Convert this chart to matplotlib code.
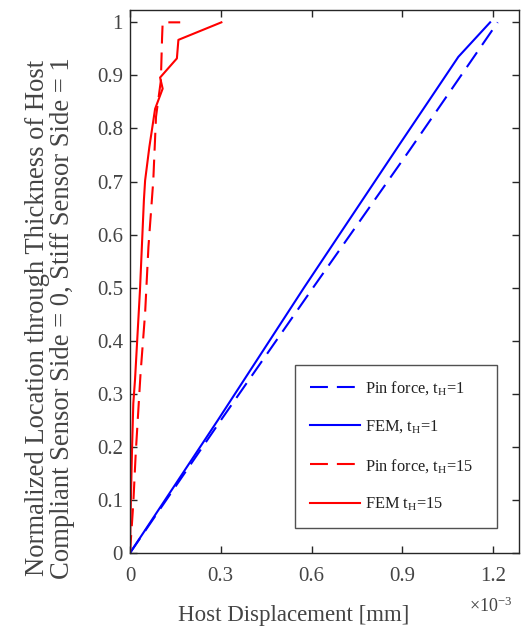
import matplotlib
matplotlib.use("Agg")
import matplotlib.pyplot as plt

plt.rcParams['font.family'] = ['Liberation Serif', 'DejaVu Serif']
plt.rcParams['mathtext.fontset'] = 'custom'
plt.rcParams['mathtext.rm'] = 'Liberation Serif'
plt.rcParams['mathtext.it'] = 'Liberation Serif:italic'

# Displacement values in units of 1e-3 mm
pin_t1_y = [0.0, 0.25, 0.5, 0.76, 1.0]
pin_t1_x = [0.0, 0.30, 0.605, 0.925, 1.215]

fem_t1_y = [0.0, 0.25, 0.5, 0.772, 0.85, 0.935, 1.0]
fem_t1_x = [0.0, 0.29, 0.575, 0.893, 0.985, 1.085, 1.19]

pin_t15_y = [0.0, 0.094, 0.188, 0.339, 0.452, 0.577, 0.702, 0.822, 0.89, 0.97, 1.0, 1.0]
pin_t15_x = [0.0, 0.011, 0.019, 0.035, 0.050, 0.061, 0.077, 0.086, 0.102, 0.106, 0.108, 0.166]

fem_t15_y = [0.0, 0.1, 0.2, 0.282, 0.326, 0.495, 0.665, 0.702, 0.765, 0.837, 0.875, 0.896, 0.932, 0.967, 1.0]
fem_t15_x = [0.0, 0.003, 0.007, 0.011, 0.0166, 0.033, 0.046, 0.050, 0.064, 0.083, 0.108, 0.0995, 0.155, 0.160, 0.302]

labels = ['Pin force, t$_\\mathrm{H}$=1', 'FEM, t$_\\mathrm{H}$=1',
          'Pin force, t$_\\mathrm{H}$=15', 'FEM t$_\\mathrm{H}$=15']

xticks = [0, 0.3, 0.6, 0.9, 1.2]
xticklabels = ['0', '0.3', '0.6', '0.9', '1.2']
yticks = [0, 0.1, 0.2, 0.3, 0.4, 0.5, 0.6, 0.7, 0.8, 0.9, 1.0]
yticklabels = ['0', '0.1', '0.2', '0.3', '0.4', '0.5', '0.6', '0.7', '0.8', '0.9', '1']

fig = plt.figure(figsize=(5.22, 6.31), dpi=100)
ax = fig.add_axes([0.249, 0.1236, 0.745, 0.860])

lw = 1.5
dash = (8.6, 4.3)
ax.plot(pin_t1_x, pin_t1_y, color='#0000ff', lw=lw, dashes=dash, label=labels[0])
ax.plot(fem_t1_x, fem_t1_y, color='#0000ff', lw=lw, label=labels[1])
ax.plot(pin_t15_x, pin_t15_y, color='#ff0000', lw=lw, dashes=dash, label=labels[2])
ax.plot(fem_t15_x, fem_t15_y, color='#ff0000', lw=lw, label=labels[3])

ax.set_xlim(0, 1.285)
ax.set_ylim(0, 1.0226)
ax.set_xticks(xticks)
ax.set_xticklabels(xticklabels)
ax.set_yticks(yticks)
ax.set_yticklabels(yticklabels)
ax.tick_params(direction='in', top=True, right=True, length=5, width=1,
               labelsize=15, colors='#262626', labelcolor='#444444', pad=5)
ax.tick_params(axis='x', pad=10)
for s in ax.spines.values():
    s.set_color('#262626')
    s.set_linewidth(1)

ax.text(0.982, -0.099, r'$\times$10$^{-3}$', transform=ax.transAxes,
        ha='right', va='center', fontsize=13, color='#444444')

ax.set_xlabel('Host Displacement [mm]', fontsize=16.5, color='#444444')
ax.xaxis.set_label_coords(0.4216, -0.116)
ax.xaxis.label.set_va('center')
ax.set_ylabel('Normalized Location through Thickness of Host\nCompliant Sensor Side = 0, Stiff Sensor Side = 1',
              fontsize=19.2, color='#444444', linespacing=1.0)
ax.yaxis.set_label_coords(-0.205, 0.433)
ax.yaxis.label.set_va('center')

leg = ax.legend(loc='lower left', bbox_to_anchor=(0.424, 0.046, 0.519, 0.30),
                mode='expand', fontsize=11.8, frameon=True, fancybox=False,
                edgecolor='#262626', handlelength=3.1, handletextpad=0.3,
                labelspacing=1.3, borderpad=0.9, borderaxespad=0)
leg.get_frame().set_linewidth(1)
for t in leg.get_texts():
    t.set_color('#222222')

fig.savefig('out.png', dpi=100)
